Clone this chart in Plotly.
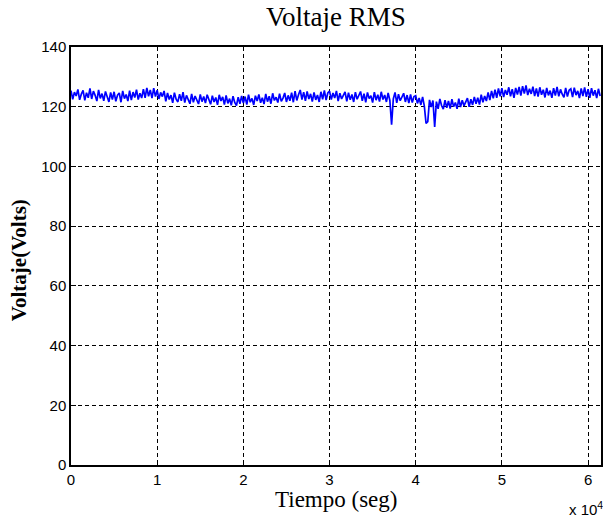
import numpy as np
import plotly.graph_objects as go

# Sampling step of the RMS record (seconds)
step = 200

voltage = [
    # 0 - 1e4
    125.4,122.5,124.9,123.6,125.8,122.3,124.2,125.5,122.1,124.7,
    123.0,126.1,122.6,125.2,123.8,121.9,125.6,122.8,124.4,122.0,
    125.1,123.3,121.6,124.8,122.4,125.0,121.8,123.9,124.6,121.5,
    125.3,122.7,124.1,121.9,125.4,122.2,124.9,123.1,125.7,122.4,
    124.5,122.9,125.9,123.0,126.3,123.5,125.6,122.9,126.2,123.4,
    # 1e4 - 2e4
    125.5,122.6,124.8,123.4,125.3,121.8,124.6,122.4,123.9,121.3,
    124.7,122.5,121.6,124.2,122.0,124.9,121.4,123.8,122.6,121.0,
    124.3,121.5,123.6,122.2,120.9,124.1,121.7,123.4,121.2,124.0,
    122.3,120.8,123.7,121.6,123.1,120.6,124.0,121.9,123.3,120.7,
    123.8,121.1,122.7,120.5,123.5,121.4,120.4,123.2,121.0,123.6,
    # 2e4 - 3e4
    121.2,123.4,120.7,124.0,121.5,122.8,120.6,123.7,121.9,124.1,
    121.3,123.0,120.9,124.3,121.7,123.5,121.0,124.5,122.1,123.2,
    121.4,124.4,121.8,122.9,124.6,121.6,123.8,122.0,124.7,121.5,
    125.2,122.1,124.0,125.6,122.4,124.9,122.0,125.1,122.6,124.3,
    121.7,124.8,122.3,123.9,121.6,125.0,122.5,125.5,122.2,124.6,
    # 3e4 - 4e4
    125.2,122.4,124.6,122.9,125.3,121.9,124.5,122.6,123.8,125.0,
    121.8,124.7,122.3,124.1,121.6,124.9,122.5,123.6,125.1,122.0,
    124.4,121.5,124.8,122.7,123.7,121.4,124.9,122.2,124.0,121.7,
    125.0,122.4,123.9,121.6,124.6,122.1,114.0,122.6,124.8,121.3,
    124.2,122.0,123.5,124.5,121.6,123.9,121.2,124.1,121.4,123.4,
    # 4e4 - 5e4
    123.7,121.1,122.9,120.6,123.3,120.2,114.4,115.0,122.3,119.9,
    122.1,113.2,121.7,119.3,122.6,120.4,119.2,122.2,119.6,121.9,
    119.4,122.5,120.0,121.4,119.3,122.7,119.9,122.2,120.3,121.5,
    122.9,120.0,122.5,120.6,123.3,121.0,123.0,120.7,124.0,121.5,
    123.6,121.9,124.8,122.2,125.3,122.8,125.7,123.0,126.1,123.5,
    # 5e4 - 6.14e4
    126.2,123.2,125.6,124.0,126.5,123.5,125.9,123.0,126.3,124.1,
    126.6,123.7,126.9,124.4,127.1,123.9,126.0,124.3,126.7,123.6,
    126.1,123.4,126.5,124.0,125.7,123.1,126.3,123.8,125.4,123.0,
    126.2,123.7,126.6,123.5,125.8,124.2,123.1,126.3,123.4,125.5,
    126.0,123.2,126.4,123.9,125.3,122.9,126.1,123.6,126.5,123.3,
    125.9,123.0,126.2,123.7,125.5,122.9,126.0,123.6,
]
time = np.arange(len(voltage)) * step

x_tickvals = [0, 10000, 20000, 30000, 40000, 50000, 60000]
x_ticktext = ["0", "1", "2", "3", "4", "5", "6"]
y_tickvals = [0, 20, 40, 60, 80, 100, 120, 140]

fig = go.Figure()
fig.add_trace(go.Scatter(x=time, y=voltage, mode="lines",
                         line=dict(color="#0000FF", width=1.7), showlegend=False))

tickfont = dict(family="Liberation Sans, Arial", size=15, color="black")
fig.update_layout(
    width=603, height=521,
    margin=dict(l=71, r=0, t=47, b=56),
    paper_bgcolor="white", plot_bgcolor="white",
    xaxis=dict(range=[0, 61500], tickvals=x_tickvals, ticktext=x_ticktext,
               showline=True, linecolor="black", linewidth=1.5, mirror=True,
               ticks="inside", ticklen=5, tickcolor="black",
               showgrid=True, gridcolor="black", griddash="4px,3px", gridwidth=1,
               zeroline=False, tickfont=tickfont),
    yaxis=dict(range=[0, 140], tickvals=y_tickvals,
               showline=True, linecolor="black", linewidth=1.5, mirror=True,
               ticks="inside", ticklen=5, tickcolor="black",
               showgrid=True, gridcolor="black", griddash="4px,3px", gridwidth=1,
               zeroline=False, tickfont=tickfont),
    annotations=[
        dict(text="Voltaje RMS", xref="paper", yref="paper", x=0.5, y=1.072,
             xanchor="center", yanchor="middle", showarrow=False,
             font=dict(family="Liberation Serif, Times New Roman", size=27, color="black")),
        dict(text="Tiempo (seg)", xref="paper", yref="paper", x=0.5, y=-0.083,
             xanchor="center", yanchor="middle", showarrow=False,
             font=dict(family="Liberation Serif, Times New Roman", size=23, color="black")),
        dict(text="<b>Voltaje(Volts)</b>", xref="paper", yref="paper", x=-0.098, y=0.49,
             xanchor="center", yanchor="middle", showarrow=False, textangle=-90,
             font=dict(family="Liberation Serif, Times New Roman", size=21, color="black")),
        dict(text="x 10<sup>4</sup>", xref="paper", yref="paper", x=0.935, y=-0.103,
             xanchor="left", yanchor="middle", showarrow=False,
             font=dict(family="Liberation Sans, Arial", size=15, color="black")),
    ],
)

fig.write_html("out.html")
